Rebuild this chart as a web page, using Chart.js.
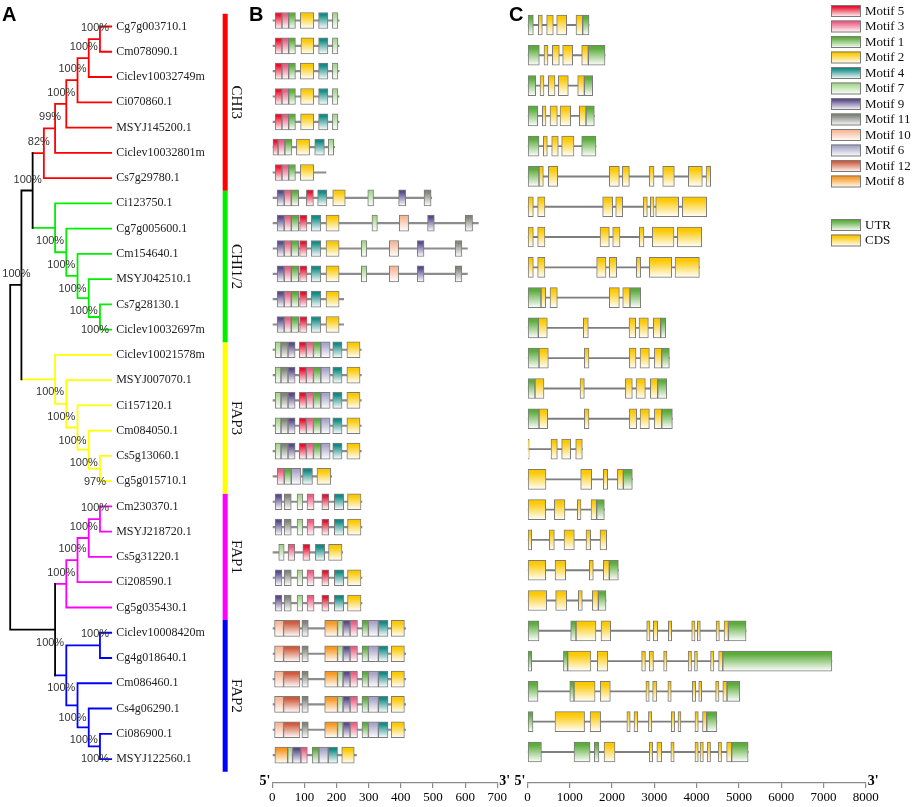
<!DOCTYPE html>
<html>
<head>
<meta charset="utf-8">
<script src="https://cdn.jsdelivr.net/npm/chart.js@4"></script>
<style>
  html, body { margin: 0; padding: 0; background: #fff; }
  #wrap { position: relative; width: 913px; height: 807px; }
  #wrap canvas { position: absolute; left: 0; top: 0; }
</style>
</head>
<body>
<div id="wrap">
  <canvas id="tree" width="913" height="807"></canvas>
  <canvas id="motifs" width="913" height="807"></canvas>
  <canvas id="genes" width="913" height="807"></canvas>
</div>
<script>
// ---- data ----
const treeNewick = '(((((((((Cg7g003710.1,Cm078090.1)100,Ciclev10032749m)100,Ci070860.1)100,MSYJ145200.1)100,Ciclev10032801m)99,Cs7g29780.1)82,' +
  '(Ci123750.1,(Cg7g005600.1,(Cm154640.1,(MSYJ042510.1,(Cs7g28130.1,Ciclev10032697m)100)100)100)100)100)100,' +
  '(Ciclev10021578m,(MSYJ007070.1,(Ci157120.1,(Cm084050.1,(Cs5g13060.1,Cg5g015710.1)97)100)100)100)100)100,' +
  '(((((Cm230370.1,MSYJ218720.1)100,Cs5g31220.1)100,Ci208590.1)100,Cg5g035430.1)100,' +
  '((Ciclev10008420m,Cg4g018640.1)100,(Cm086460.1,(Cs4g06290.1,(Ci086900.1,MSYJ122560.1)100)100)100)100)100);';

const cladeNames = ['CHI3', 'CHI1/2', 'FAP3', 'FAP1', 'FAP2'];
const cladeSizes = [7, 6, 6, 5, 6];

const geneIds = ['Cg7g003710.1','Cm078090.1','Ciclev10032749m','Ci070860.1','MSYJ145200.1','Ciclev10032801m','Cs7g29780.1',
  'Ci123750.1','Cg7g005600.1','Cm154640.1','MSYJ042510.1','Cs7g28130.1','Ciclev10032697m',
  'Ciclev10021578m','MSYJ007070.1','Ci157120.1','Cm084050.1','Cs5g13060.1','Cg5g015710.1',
  'Cm230370.1','MSYJ218720.1','Cs5g31220.1','Ci208590.1','Cg5g035430.1',
  'Ciclev10008420m','Cg4g018640.1','Cm086460.1','Cs4g06290.1','Ci086900.1','MSYJ122560.1'];

const proteinLengths = [208,208,208,208,208,194,167,496,641,607,607,222,222,277,277,277,277,277,185,
  279,279,219,279,279,415,415,415,415,415,262];

// [motif, start, end] in aa, one list per gene
const motifHits = [
  [[5,9,30],[3,30,51],[1,51,72],[2,87,129],[4,144,173],[7,187,204]],
  [[5,9,30],[3,30,51],[1,51,72],[2,89,129],[4,144,173],[7,187,204]],
  [[5,9,30],[3,30,51],[1,51,72],[2,87,129],[4,144,173],[7,187,204]],
  [[5,9,30],[3,30,51],[1,51,72],[2,88,129],[4,144,173],[7,187,204]],
  [[5,9,30],[3,30,51],[1,51,72],[2,88,129],[4,144,173],[7,187,204]],
  [[5,0,18],[3,18,39],[1,39,61],[2,75,116],[4,132,162],[7,174,191]],
  [[5,9,30],[3,30,51],[1,51,72],[2,87,129]],
  [[9,15,37],[3,37,59],[1,59,82],[5,106,128],[4,141,170],[2,188,227],[7,297,315],[9,393,415],[11,472,494]],
  [[9,15,37],[3,37,59],[1,59,82],[5,85,108],[4,121,151],[2,167,208],[7,310,327],[10,395,424],[9,483,504],[11,600,623]],
  [[9,15,37],[3,37,59],[1,59,82],[5,85,108],[4,121,151],[2,167,208],[7,277,294],[10,364,393],[9,451,472],[11,569,590]],
  [[9,15,37],[3,37,59],[1,59,82],[5,85,108],[4,121,151],[2,167,208],[7,277,294],[10,364,393],[9,451,472],[11,569,590]],
  [[9,15,37],[3,37,59],[1,59,82],[5,85,108],[4,121,151],[2,167,208]],
  [[9,15,37],[3,37,59],[1,59,82],[5,85,108],[4,121,151],[2,167,208]],
  [[7,9,27],[11,27,49],[9,49,71],[5,84,106],[3,106,128],[1,128,151],[6,151,180],[4,188,217],[2,232,273]],
  [[7,9,27],[11,27,49],[9,49,71],[5,84,106],[3,106,128],[1,128,151],[6,151,180],[4,188,217],[2,232,273]],
  [[7,9,27],[11,27,49],[9,49,71],[5,84,106],[3,106,128],[1,128,151],[6,151,180],[4,188,217],[2,232,273]],
  [[7,9,27],[11,27,49],[9,49,71],[5,84,106],[3,106,128],[1,128,151],[6,151,180],[4,188,217],[2,232,273]],
  [[7,9,27],[11,27,49],[9,49,71],[5,84,106],[3,106,128],[1,128,151],[6,151,180],[4,188,217],[2,232,273]],
  [[3,15,37],[1,37,59],[6,59,89],[4,94,125],[2,139,182]],
  [[9,9,30],[11,37,59],[7,77,95],[3,108,130],[5,154,176],[4,193,222],[2,234,276]],
  [[9,9,30],[11,37,59],[7,77,95],[3,108,130],[5,154,176],[4,193,222],[2,234,276]],
  [[7,20,37],[3,49,70],[5,95,117],[4,134,163],[2,175,217]],
  [[9,9,30],[11,37,59],[7,77,95],[3,108,130],[5,154,176],[4,193,222],[2,234,276]],
  [[9,9,30],[11,37,59],[7,77,95],[3,108,130],[5,154,176],[4,193,222],[2,234,276]],
  [[10,7,35],[12,35,86],[11,92,112],[8,163,203],[7,203,220],[9,220,242],[3,242,265],[1,279,299],[6,299,330],[4,330,360],[2,370,411]],
  [[10,7,35],[12,35,86],[11,92,112],[8,163,203],[7,203,220],[9,220,242],[3,242,265],[1,279,299],[6,299,330],[4,330,360],[2,370,411]],
  [[10,7,35],[12,35,86],[11,92,112],[8,163,203],[7,203,220],[9,220,242],[3,242,265],[1,279,299],[6,299,330],[4,330,360],[2,370,411]],
  [[10,7,35],[12,35,86],[11,92,112],[8,163,203],[7,203,220],[9,220,242],[3,242,265],[1,279,299],[6,299,330],[4,330,360],[2,370,411]],
  [[10,7,35],[12,35,86],[11,92,112],[8,163,203],[7,203,220],[9,220,242],[3,242,265],[1,279,299],[6,299,330],[4,330,360],[2,370,411]],
  [[8,8,48],[7,48,63],[9,63,89],[3,89,109],[1,124,145],[6,145,174],[4,174,203],[2,216,255]]
];

const motifOrder = [5, 3, 1, 2, 4, 7, 9, 11, 10, 6, 12, 8];
const motifAxisTicks = [0, 100, 200, 300, 400, 500, 600, 700];

// gene structures: [U = UTR | C = CDS, start, end] in bp
const featureNames = { U: 'UTR', C: 'CDS' };
const structureRows = [
  [['U',0,138],['C',256,351],['C',453,611],['C',690,927],['C',1147,1305],['U',1305,1455]],
  [['U',0,280],['C',390,485],['C',588,753],['C',832,1069],['C',1282,1439],['U',1439,1834]],
  [['U',0,193],['C',296,390],['C',493,651],['C',730,966],['C',1187,1345],['U',1345,1542]],
  [['U',0,240],['C',351,438],['C',532,706],['C',769,1021],['C',1226,1384],['U',1384,1581]],
  [['U',0,272],['C',375,469],['C',572,729],['C',808,1100],['U',1282,1620]],
  [['U',0,272],['C',272,375],['C',493,714],['C',1936,2173],['C',2244,2410],['C',2883,2993],['C',3198,3474],['C',3805,4136],['C',4223,4333]],
  [['C',0,138],['C',240,414],['C',1778,2015],['C',2086,2252],['C',2741,2835],['C',2906,2993],['C',3032,3576],['C',3663,4239]],
  [['C',0,138],['C',240,414],['C',1715,1936],['C',2015,2189],['C',2646,2756],['C',2953,3466],['C',3545,4121]],
  [['C',0,138],['C',240,414],['C',1636,1857],['C',1936,2110],['C',2575,2678],['C',2883,3411],['C',3490,4066]],
  [['U',0,319],['C',319,430],['C',532,706],['C',1936,2173],['C',2252,2425],['U',2425,2678]],
  [['U',0,256],['C',256,469],['C',1321,1439],['C',2402,2559],['C',2638,2859],['C',2977,3151],['U',3151,3269]],
  [['U',0,272],['C',272,493],['C',1345,1455],['C',2410,2568],['C',2662,2883],['C',3001,3175],['U',3175,3356]],
  [['U',0,177],['C',177,390],['C',1242,1345],['C',2315,2480],['C',2567,2788],['C',2906,3080],['U',3080,3293]],
  [['U',0,272],['C',272,477],['C',1345,1455],['C',2410,2583],['C',2662,2883],['C',3001,3175],['U',3175,3427]],
  [['C',0,40],['C',556,706],['C',808,1021],['C',1140,1297]],
  [['C',0,438],['C',1258,1518],['C',1794,1897],['C',2126,2267],['U',2267,2480]],
  [['C',0,430],['C',635,887],['C',1179,1266],['C',1502,1636],['U',1636,1818]],
  [['C',0,99],['C',517,635],['C',863,1108],['C',1384,1494],['C',1715,1873]],
  [['C',0,430],['C',651,903],['C',1463,1557],['C',1794,1936],['U',1936,2149]],
  [['C',0,453],['C',666,927],['C',1202,1297],['C',1534,1676],['U',1676,1857]],
  [['U',0,272],['U',1021,1147],['C',1147,1620],['C',1739,1968],['C',2819,2898],['C',2977,3080],['C',3332,3411],['C',3884,3963],['C',4018,4089],['C',4460,4539],['C',4649,4752],['U',4752,5170]],
  [['U',0,100],['U',850,950],['C',950,1500],['C',1650,1900],['C',2700,2790],['C',2880,2980],['C',3220,3300],['C',3800,3880],['C',3950,4020],['C',4330,4410],['C',4520,4620],['U',4620,7200]],
  [['U',0,250],['U',1000,1100],['C',1100,1600],['C',1720,1960],['C',2800,2880],['C',2960,3060],['C',3320,3400],['C',3900,3980],['C',4050,4120],['C',4450,4530],['C',4620,4720],['U',4720,5020]],
  [['U',0,130],['C',650,1350],['C',1480,1730],['C',2350,2430],['C',2520,2610],['C',2860,2940],['C',3400,3480],['C',3560,3630],['C',3960,4040],['C',4140,4240],['U',4240,4480]],
  [['U',0,330],['U',1100,1480],['U',1580,1690],['C',1810,2070],['C',2880,2960],['C',3060,3175],['C',3390,3470],['C',3960,4040],['C',4080,4160],['C',4250,4330],['C',4510,4590],['C',4710,4830],['U',4830,5220]]
];
const geneAxisTicks = [0, 1000, 2000, 3000, 4000, 5000, 6000, 7000, 8000];

// ---- styles ----
const cladeColors = ['#ff0000', '#00ee00', '#ffff00', '#ff00ff', '#0000ff'];
const motifColors = { 5: '#e8102e', 3: '#ec5f84', 1: '#5cac3c', 2: '#fcc800', 4: '#138a84', 7: '#a8d890',
  9: '#5a4a8a', 11: '#80857a', 10: '#f8b898', 6: '#a8a6c8', 12: '#d05a3c', 8: '#f89820' };
const featureColors = { U: '#5cac3c', C: '#fcc800' };
const boxEdge = '#7b7b7b';
const serif = '"Liberation Serif", "Times New Roman", serif';
const sans = '"Liberation Sans", Arial, sans-serif';
const W = 913, H = 807;
const AXIS_BOTTOM = 783;

function gradientFor(ctx, color, top, height) {
  const g = ctx.createLinearGradient(0, top, 0, top + height);
  g.addColorStop(0, color);
  g.addColorStop(0.15, color);
  g.addColorStop(1, '#ffffff');
  return g;
}

function boxFill(color, thickness) {
  return c => {
    if (c.type !== 'data' || !c.parsed) return color;
    const ys = c.chart.scales.y;
    const py = ys ? ys.getPixelForValue(c.parsed.y) : NaN;
    if (!Number.isFinite(py)) return color;
    return gradientFor(c.chart.ctx, color, py - thickness / 2, thickness);
  };
}

// ---- tree ----
function parseNewick(s) {
  let i = 0;
  function node() {
    const n = { children: [] };
    if (s[i] === '(') {
      i++;
      n.children.push(node());
      while (s[i] === ',') { i++; n.children.push(node()); }
      i++;
    }
    let tok = '';
    while (i < s.length && !'(),;'.includes(s[i])) tok += s[i++];
    if (n.children.length) { if (tok) n.support = Number(tok); } else n.name = tok;
    n.children.forEach(c => { c.parent = n; });
    return n;
  }
  return node();
}

const root = parseNewick(treeNewick);
const leaves = [], nodes = [];
const leafClade = [];
cladeSizes.forEach((n, k) => { for (let j = 0; j < n; j++) leafClade.push(k); });

function layout(n) {
  nodes.push(n);
  if (!n.children.length) {
    n.y = leaves.length; n.height = 0; n.clade = leafClade[leaves.length];
    leaves.push(n);
    return;
  }
  n.children.forEach(layout);
  n.height = 1 + Math.max(...n.children.map(c => c.height));
  n.y = (n.children[0].y + n.children[n.children.length - 1].y) / 2;
  const cl = n.children.map(c => c.clade);
  n.clade = cl.every(c => c === cl[0]) ? cl[0] : -1;
}
layout(root);
nodes.forEach(n => { n.x = root.height - n.height; });

const colorOf = n => (n.clade >= 0 ? cladeColors[n.clade] : '#000000');
const segs = {};
function addSeg(color, x1, y1, x2, y2) {
  (segs[color] = segs[color] || []).push({ x: x1, y: y1 }, { x: x2, y: y2 }, { x: null, y: null });
}
nodes.forEach(n => {
  if (!n.children.length) return;
  const first = n.children[0], last = n.children[n.children.length - 1];
  addSeg(colorOf(n), n.x, first.y, n.x, last.y);
  n.children.forEach(c => addSeg(colorOf(c), n.x, c.y, c.x, c.y));
});

const TREE_STEP = 11.22, TREE_LEFT = 10.2, TREE_SPAN = 20;
const CLADE_BAR_X = 19.16;
const treeDatasets = Object.keys(segs).map(col => ({
  data: segs[col], borderColor: col, borderWidth: 1.8, borderCapStyle: 'square',
  pointRadius: 0, spanGaps: false, tension: 0, clip: false
}));
let start = 0;
const cladeBars = cladeSizes.map((n, k) => {
  const ds = {
    data: [{ x: CLADE_BAR_X, y: start - 0.5 }, { x: CLADE_BAR_X, y: start + n - 0.5 }],
    borderColor: cladeColors[k], borderWidth: 5, borderCapStyle: 'butt', pointRadius: 0, clip: false
  };
  start += n;
  return ds;
});

const treeText = {
  id: 'treeText',
  afterDatasetsDraw(chart) {
    const { ctx, scales: { x, y } } = chart;
    ctx.save();
    ctx.textBaseline = 'middle';
    ctx.font = '12px ' + serif; ctx.fillStyle = '#222'; ctx.textAlign = 'left';
    leaves.forEach(l => ctx.fillText(l.name, x.getPixelForValue(l.x) + 5, y.getPixelForValue(l.y)));
    ctx.font = '11px ' + sans; ctx.fillStyle = '#333'; ctx.textAlign = 'center';
    nodes.forEach(n => {
      if (n.support == null || !n.parent) return;
      const above = n.parent.children[0] === n;
      ctx.fillText(n.support + '%', x.getPixelForValue(n.x) - 5, y.getPixelForValue(n.y) + (above ? -11 : 13));
    });
    ctx.font = '15px ' + serif; ctx.fillStyle = '#111';
    let s0 = 0;
    cladeSizes.forEach((n, k) => {
      const cy = y.getPixelForValue(s0 + (n - 1) / 2);
      const cx = x.getPixelForValue(CLADE_BAR_X) + 11;
      ctx.save(); ctx.translate(cx, cy); ctx.rotate(Math.PI / 2);
      ctx.fillText(cladeNames[k], 0, 0);
      ctx.restore();
      s0 += n;
    });
    ctx.font = 'bold 20px ' + sans; ctx.fillStyle = '#000'; ctx.textAlign = 'left'; ctx.textBaseline = 'alphabetic';
    ctx.fillText('A', 2, 21);
    ctx.restore();
  }
};

new Chart(document.getElementById('tree'), {
  type: 'line',
  data: { datasets: treeDatasets.concat(cladeBars) },
  options: {
    responsive: false, animation: false, events: [],
    layout: { padding: { left: TREE_LEFT, right: W - TREE_LEFT - TREE_SPAN * TREE_STEP, top: 1.24, bottom: 22.7 } },
    scales: {
      x: { type: 'linear', min: 0, max: TREE_SPAN, display: false },
      y: { type: 'linear', min: -1, max: 30, reverse: true, display: false }
    },
    plugins: { legend: { display: false }, tooltip: { enabled: false } }
  },
  plugins: [treeText]
});

// ---- shared axes for B and C ----
function bottomAxis(min, max, tickList) {
  return {
    type: 'linear', min, max, offset: false,
    afterBuildTicks: s => { s.ticks = tickList.map(v => ({ value: v })); },
    afterFit: s => { s.height = H - AXIS_BOTTOM; },
    border: { color: '#8a8a8a', width: 1.2 },
    grid: { drawOnChartArea: false, drawTicks: true, tickLength: 5, color: '#8a8a8a', lineWidth: 1.2, offset: false },
    ticks: { font: { family: serif, size: 13 }, color: '#000', padding: 2, maxRotation: 0, autoSkip: false, callback: v => String(v) }
  };
}

function rowAxis(row0, rowH) {
  return {
    type: 'linear', reverse: true, display: false, offset: false, grid: { offset: false },
    min: -0.5, max: -0.5 + (AXIS_BOTTOM - row0 + rowH / 2) / rowH
  };
}

function endLabels(letter, letterX) {
  return {
    id: 'ends' + letter,
    afterDraw(chart) {
      const { ctx, scales: { x } } = chart;
      ctx.save();
      ctx.font = 'bold 14px ' + serif; ctx.fillStyle = '#000'; ctx.textBaseline = 'alphabetic';
      ctx.textAlign = 'right'; ctx.fillText("5'", x.getPixelForValue(x.min) - 2, AXIS_BOTTOM + 2);
      ctx.textAlign = 'left'; ctx.fillText("3'", x.getPixelForValue(x.max) + 2, AXIS_BOTTOM + 2);
      ctx.font = 'bold 20px ' + sans;
      ctx.fillText(letter, letterX, 21);
      ctx.restore();
    }
  };
}

// ---- B: motifs ----
const B_LEFT = 272.3, B_RIGHT = 497.3, B_ROW0 = 20.5, B_ROWH = 25.33, B_BOX = 16;
const backbone = {
  data: proteinLengths.map((len, row) => ({ x: [0, len], y: row })),
  backgroundColor: '#8c8c8c', borderWidth: 0, barThickness: 1.5, grouped: false, order: 1
};
const motifDatasets = motifOrder.map(m => ({
  label: 'Motif ' + m,
  data: motifHits.flatMap((hits, row) => hits.filter(h => h[0] === m).map(h => ({ x: [h[1], h[2]], y: row }))),
  backgroundColor: boxFill(motifColors[m], B_BOX),
  borderColor: boxEdge, borderWidth: 1, borderSkipped: false,
  barThickness: B_BOX, grouped: false, order: 0
}));

new Chart(document.getElementById('motifs'), {
  type: 'bar',
  data: { datasets: [backbone].concat(motifDatasets) },
  options: {
    indexAxis: 'y', responsive: false, animation: false, events: [],
    layout: { padding: { left: B_LEFT, right: W - B_RIGHT, top: B_ROW0 - B_ROWH / 2, bottom: 0 } },
    scales: { x: bottomAxis(0, 700, motifAxisTicks), y: rowAxis(B_ROW0, B_ROWH) },
    plugins: { legend: { display: false }, tooltip: { enabled: false } }
  },
  plugins: [endLabels('B', 249)]
});

// ---- C: gene structure ----
const C_LEFT = 527.5, C_RIGHT = 865.7, C_ROW0 = 25, C_ROWH = 30.29, C_BOX = 20;
const introns = {
  data: structureRows.map((segsRow, row) => ({
    x: [Math.min(...segsRow.map(s => s[1])), Math.max(...segsRow.map(s => s[2]))], y: row
  })),
  backgroundColor: '#7d7d7d', borderWidth: 0, barThickness: 1.2, grouped: false, order: 1
};
const featureDatasets = Object.keys(featureNames).map(k => ({
  label: featureNames[k],
  data: structureRows.flatMap((segsRow, row) => segsRow.filter(s => s[0] === k).map(s => ({ x: [s[1], s[2]], y: row }))),
  backgroundColor: boxFill(featureColors[k], C_BOX),
  borderColor: boxEdge, borderWidth: 1, borderSkipped: false,
  barThickness: C_BOX, grouped: false, order: 0
}));

const legendBox = {
  id: 'legendBox',
  afterDraw(chart) {
    const ctx = chart.ctx;
    const items = motifOrder.map(m => ['Motif ' + m, motifColors[m]]);
    ctx.save();
    ctx.font = '13px ' + serif; ctx.textBaseline = 'middle'; ctx.textAlign = 'left';
    const draw = (label, color, cy) => {
      ctx.fillStyle = gradientFor(ctx, color, cy - 6, 12);
      ctx.fillRect(831, cy - 6, 30, 12);
      ctx.strokeStyle = boxEdge; ctx.lineWidth = 1;
      ctx.strokeRect(831.5, cy - 5.5, 29, 11);
      ctx.fillStyle = '#111';
      ctx.fillText(label, 865, cy + 0.5);
    };
    items.forEach((it, i) => draw(it[0], it[1], 11 + 15.5 * i));
    Object.keys(featureNames).forEach((k, i) => draw(featureNames[k], featureColors[k], 225 + 15.5 * i));
    ctx.restore();
  }
};

new Chart(document.getElementById('genes'), {
  type: 'bar',
  data: { datasets: [introns].concat(featureDatasets) },
  options: {
    indexAxis: 'y', responsive: false, animation: false, events: [],
    layout: { padding: { left: C_LEFT, right: W - C_RIGHT, top: C_ROW0 - C_ROWH / 2, bottom: 0 } },
    scales: { x: bottomAxis(0, 8000, geneAxisTicks), y: rowAxis(C_ROW0, C_ROWH) },
    plugins: { legend: { display: false }, tooltip: { enabled: false } }
  },
  plugins: [endLabels('C', 509), legendBox]
});
</script>
</body>
</html>
